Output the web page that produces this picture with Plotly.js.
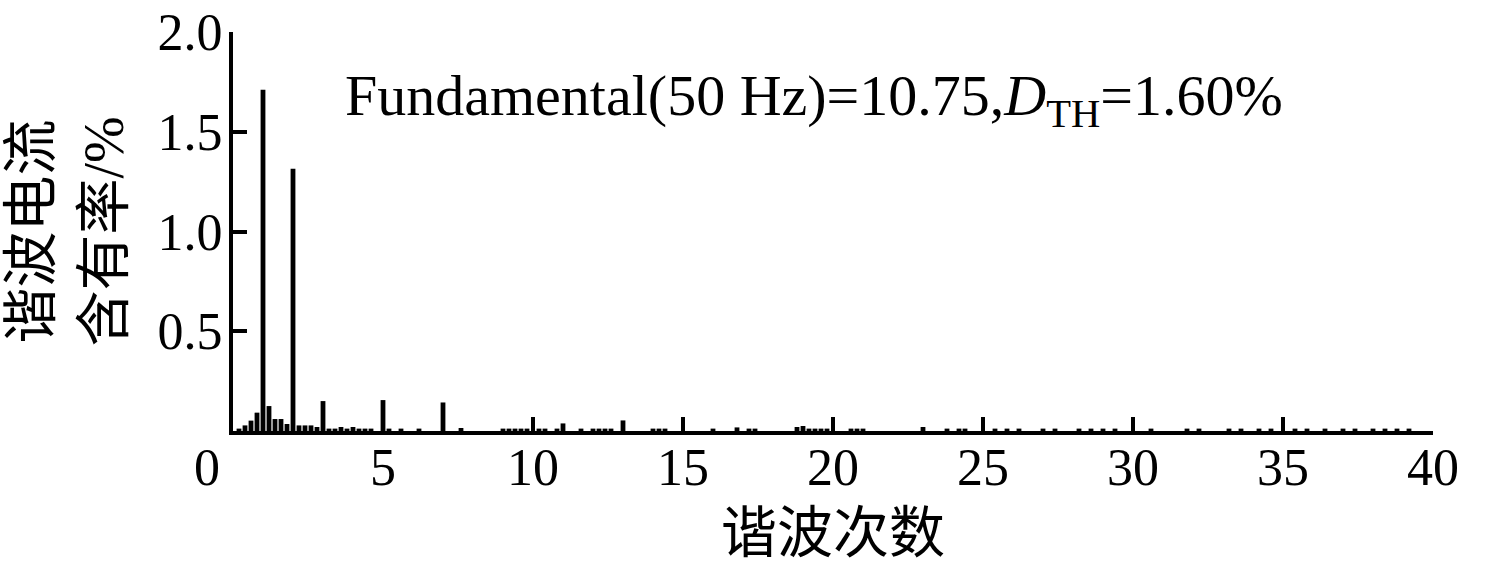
<!DOCTYPE html>
<html>
<head>
<meta charset="utf-8">
<script src="https://cdn.plot.ly/plotly-3.0.1.min.js"></script>
<style>html,body{margin:0;padding:0;background:#fff;}#chart{width:1488px;height:564px;}</style>
</head>
<body>
<div id="chart"></div>
<script>
// Harmonic order (bins of 0.2) and harmonic current content (%)
const harmonicOrder = [
  0.2, 0.4, 0.6, 0.8, 1.0, 1.2, 1.4, 1.6, 1.8, 2.0,
  2.2, 2.4, 2.6, 2.8, 3.0, 3.2, 3.4, 3.6, 3.8, 4.0,
  4.2, 4.4, 4.6, 5.0, 5.2, 5.6, 6.2, 7.0, 7.6, 9.0,
  9.2, 9.4, 9.6, 9.8, 10.2, 10.4, 10.8, 11.0, 11.6, 12.0,
  12.2, 12.4, 12.6, 13.0, 14.0, 14.2, 14.4, 16.0, 16.8, 17.2,
  17.4, 18.8, 19.0, 19.2, 19.4, 19.6, 19.8, 20.6, 20.8, 21.0,
  23.0, 23.8, 24.2, 24.4, 25.4, 25.8, 26.2, 27.0, 27.4, 28.2,
  28.6, 29.0, 29.4, 30.6, 31.8, 32.2, 33.2, 33.6, 34.2, 34.6,
  35.4, 35.8, 36.4, 37.0, 37.4, 38.0, 38.4, 38.8, 39.2
];
const contentRate = [
  0.012, 0.028, 0.052, 0.092, 1.71, 0.125, 0.06, 0.06, 0.035, 1.315,
  0.028, 0.028, 0.028, 0.02, 0.15, 0.012, 0.012, 0.02, 0.012, 0.02,
  0.012, 0.012, 0.012, 0.155, 0.012, 0.012, 0.012, 0.143, 0.015, 0.012,
  0.012, 0.012, 0.012, 0.012, 0.012, 0.012, 0.012, 0.038, 0.012, 0.012,
  0.012, 0.012, 0.012, 0.053, 0.012, 0.012, 0.012, 0.012, 0.018, 0.012,
  0.012, 0.02, 0.025, 0.012, 0.012, 0.012, 0.012, 0.012, 0.012, 0.012,
  0.02, 0.012, 0.012, 0.012, 0.012, 0.012, 0.012, 0.012, 0.012, 0.012,
  0.012, 0.012, 0.012, 0.012, 0.012, 0.012, 0.012, 0.012, 0.012, 0.012,
  0.012, 0.012, 0.012, 0.012, 0.012, 0.012, 0.012, 0.012, 0.012
];
const xTickVals = [0, 5, 10, 15, 20, 25, 30, 35, 40];
const xTickText = ["0\u00a0\u00a0\u00a0\u00a0", "5", "10", "15", "20", "25", "30", "35", "40"];
const yTickVals = [0.5, 1.0, 1.5, 2.0];
const yTickText = ["0.5", "1.0", "1.5", "2.0"];
const xTitle = "谐波次数";
const yTitle = "谐波电流<br>含有率/%";
const noteText = "Fundamental(50 Hz)=10.75,<i>D</i><sub>TH</sub>=1.60%";

const FONT = "'Liberation Serif', 'Noto Sans CJK SC', serif";

const trace = {
  type: 'bar',
  x: harmonicOrder,
  y: contentRate,
  width: 0.16,
  marker: {color: '#000', line: {width: 0}},
  hoverinfo: 'x+y'
};

const layout = {
  width: 1488, height: 564,
  margin: {l: 233, r: 55, t: 32, b: 133, pad: 0},
  paper_bgcolor: '#fff', plot_bgcolor: '#fff',
  showlegend: false,
  font: {family: FONT, color: '#000', size: 52},
  xaxis: {
    range: [0, 40], tickmode: 'array', tickvals: xTickVals, ticktext: xTickText,
    ticks: 'inside', ticklen: 14, tickwidth: 4, tickcolor: '#000',
    showline: true, linewidth: 4, linecolor: '#000', showgrid: false, zeroline: false,
    tickfont: {family: FONT, size: 52, color: '#000'}, ticklabelstandoff: -12,
    title: {text: xTitle, font: {family: FONT, size: 56, color: '#000'}, standoff: 22},
    fixedrange: true
  },
  yaxis: {
    range: [0, 2.0], tickmode: 'array', tickvals: yTickVals, ticktext: yTickText,
    ticks: 'inside', ticklen: 14, tickwidth: 4, tickcolor: '#000',
    showline: true, linewidth: 4, linecolor: '#000', showgrid: false, zeroline: false,
    tickfont: {family: FONT, size: 52, color: '#000'}, ticklabelstandoff: -4,
    title: {text: yTitle, font: {family: FONT, size: 56, color: '#000'}, standoff: 24},
    fixedrange: true
  },
  annotations: [{
    xref: 'paper', yref: 'paper', x: 0.0917, y: 0.83,
    xanchor: 'left', yanchor: 'middle', showarrow: false,
    text: noteText, font: {family: FONT, size: 58, color: '#000'}
  }]
};

Plotly.newPlot('chart', [trace], layout, {displayModeBar: false, staticPlot: true});
</script>
</body>
</html>
